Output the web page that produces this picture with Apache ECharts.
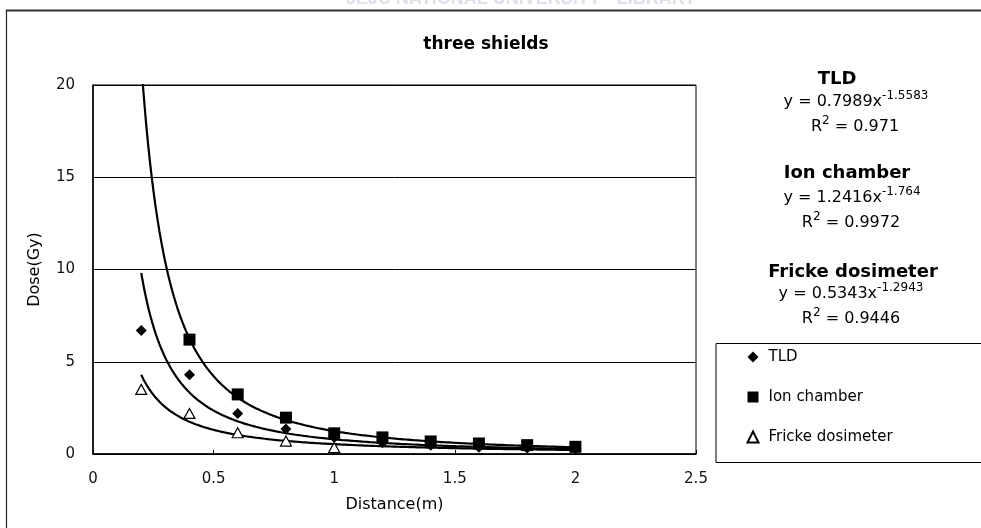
<!DOCTYPE html>
<html>
<head>
<meta charset="utf-8">
<script src="https://cdn.jsdelivr.net/npm/echarts@6/dist/echarts.min.js"></script>
<style>
  html, body { margin: 0; padding: 0; background: #fff; }
  #chart { width: 981px; height: 528px; }
</style>
</head>
<body>
<div id="chart"></div>
<script>
// Measured dose (Gy) at each source distance (m)
const distances = [0.2, 0.4, 0.6, 0.8, 1.0, 1.2, 1.4, 1.6, 1.8, 2.0];
const tldDose = [6.7, 4.3, 2.2, 1.35, 0.9, 0.61, 0.48, 0.36, 0.32, 0.29];
const ionDose = [null, 6.2, 3.23, 1.97, 1.12, 0.9, 0.68, 0.57, 0.48, 0.39];
const frickeDose = [3.5, 2.2, 1.15, 0.7, 0.35, null, null, null, null, null];

// Power-law trendlines y = a * x^b with their R² values
const seriesNames = ['TLD', 'Ion chamber', 'Fricke dosimeter'];
const fitA = [0.7989, 1.2416, 0.5343];
const fitB = [-1.5583, -1.764, -1.2943];
const fitR2 = ['0.971', '0.9972', '0.9446'];
const fitRange = [0.2, 2.0];

// Axis ranges: [min, max, interval]
const xAxisRange = [0, 2.5, 0.5];
const yAxisRange = [0, 20, 5];

const FONT = 'DejaVu Sans';

function pairs(values) {
  return distances.map((d, i) => [d, values[i]]).filter(p => p[1] != null);
}

function trendCurve(a, b) {
  const pts = [];
  const steps = 360;
  for (let i = 0; i <= steps; i++) {
    const x = fitRange[0] + (fitRange[1] - fitRange[0]) * i / steps;
    pts.push([x, a * Math.pow(x, b)]);
  }
  return pts;
}

const trendSeries = fitA.map((a, i) => ({
  type: 'line',
  data: trendCurve(a, fitB[i]),
  showSymbol: false,
  symbol: 'none',
  silent: true,
  clip: true,
  z: 2,
  lineStyle: { color: '#000', width: 2.2, opacity: 1 },
  emphasis: { disabled: true }
}));

const markerSeries = [
  {
    name: seriesNames[0], type: 'scatter', data: pairs(tldDose),
    symbol: 'diamond', symbolSize: 11,
    itemStyle: { color: '#000', opacity: 1 }
  },
  {
    name: seriesNames[1], type: 'scatter', data: pairs(ionDose),
    symbol: 'rect', symbolSize: 12,
    itemStyle: { color: '#000', opacity: 1 }
  },
  {
    name: seriesNames[2], type: 'scatter', data: pairs(frickeDose),
    symbol: 'triangle', symbolSize: [11, 10],
    itemStyle: { color: '#fff', borderColor: '#000', borderWidth: 1.2, opacity: 1 }
  }
].map(s => Object.assign(s, { silent: true, z: 3, emphasis: { disabled: true } }));

// Trendline equation labels on the right
const labelX = [[837, 856, 855], [847, 852, 851], [853, 851, 851]];
const labelY = [[79, 100, 125], [173, 196, 221], [272, 292, 317]];
const richStyles = {
  b: { fontFamily: FONT, fontSize: 16, color: '#000', lineHeight: 20, verticalAlign: 'bottom' },
  s: { fontFamily: FONT, fontSize: 12, color: '#000', lineHeight: 20, verticalAlign: 'top' }
};
const fitLabels = [];
seriesNames.forEach((name, i) => {
  fitLabels.push({
    type: 'text', x: labelX[i][0], y: labelY[i][0], silent: true,
    style: { text: name, fontFamily: FONT, fontSize: 18, fontWeight: 'bold', fill: '#000',
             align: 'center', verticalAlign: 'middle' }
  });
  fitLabels.push({
    type: 'text', x: labelX[i][1], y: labelY[i][1], silent: true,
    style: { text: '{b|y = ' + fitA[i] + 'x}{s|' + fitB[i] + '}', rich: richStyles,
             align: 'center', verticalAlign: 'middle' }
  });
  fitLabels.push({
    type: 'text', x: labelX[i][2], y: labelY[i][2], silent: true,
    style: { text: '{b|R}{s|2}{b| = ' + fitR2[i] + '}', rich: richStyles,
             align: 'center', verticalAlign: 'middle' }
  });
});

const chart = echarts.init(document.getElementById('chart'), null, { renderer: 'canvas' });
chart.setOption({
  animation: false,
  backgroundColor: '#fff',
  textStyle: { fontFamily: FONT },
  grid: {
    left: 93, right: 285, top: 85, bottom: 74,
    show: true, borderColor: '#000', borderWidth: 1, backgroundColor: 'transparent',
    containLabel: false, outerBoundsMode: 'none'
  },
  xAxis: {
    type: 'value',
    min: xAxisRange[0], max: xAxisRange[1], interval: xAxisRange[2],
    name: 'Distance(m)', nameLocation: 'middle', nameGap: 43,
    nameTextStyle: { fontFamily: FONT, fontSize: 16, color: '#000' },
    axisLine: { show: true, onZero: false, lineStyle: { color: '#000', width: 1.5 } },
    axisTick: { show: true, inside: true, length: 4, lineStyle: { color: '#000' } },
    axisLabel: { fontFamily: FONT, fontSize: 15, color: '#111', margin: 18 },
    splitLine: { show: false }
  },
  yAxis: {
    type: 'value',
    min: yAxisRange[0], max: yAxisRange[1], interval: yAxisRange[2],
    name: 'Dose(Gy)', nameLocation: 'middle', nameGap: 50, nameRotate: 90,
    nameTextStyle: { fontFamily: FONT, fontSize: 16, color: '#000' },
    axisLine: { show: true, lineStyle: { color: '#000', width: 1.5 } },
    axisTick: { show: false },
    axisLabel: { fontFamily: FONT, fontSize: 15, color: '#111', margin: 18 },
    splitLine: { show: true, lineStyle: { color: '#000', width: 1 } }
  },
  legend: {
    data: seriesNames,
    orient: 'vertical',
    left: 741.5, top: 344,
    itemWidth: 11, itemHeight: 11,
    itemGap: 24,
    selectedMode: false,
    textStyle: { fontFamily: FONT, fontSize: 15, color: '#000', lineHeight: 16, padding: [0, 0, 0, 5] },
    z: 5
  },
  graphic: [
    {
      type: 'text', x: 346, y: 8, silent: true, z: 0,
      style: { text: 'JEJU NATIONAL UNIVERSITY · LIBRARY', fontFamily: 'Liberation Sans',
               fontSize: 18, fontWeight: 'bold', fill: '#dde2ea', align: 'left', verticalAlign: 'bottom' }
    },
    {
      type: 'line', silent: true, z: 1,
      shape: { x1: 6, y1: 10.5, x2: 981, y2: 10.5 },
      style: { stroke: '#333', lineWidth: 2 }
    },
    {
      type: 'line', silent: true, z: 1,
      shape: { x1: 6.5, y1: 10, x2: 6.5, y2: 528 },
      style: { stroke: '#222', lineWidth: 1.2 }
    },
    {
      type: 'text', x: 486, y: 45, silent: true,
      style: { text: 'three shields', fontFamily: FONT, fontSize: 17, fontWeight: 'bold',
               fill: '#000', align: 'center', verticalAlign: 'middle' }
    },
    {
      type: 'rect', silent: true, z: 1,
      shape: { x: 716, y: 343.5, width: 300, height: 119 },
      style: { fill: '#fff', stroke: '#000', lineWidth: 1 }
    }
  ].concat(fitLabels),
  series: trendSeries.concat(markerSeries)
});
</script>
</body>
</html>
